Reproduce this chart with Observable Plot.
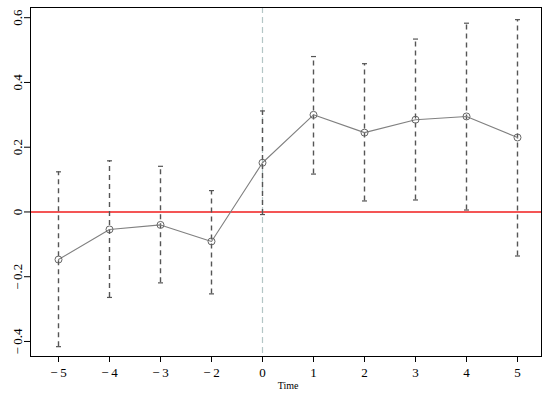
<!DOCTYPE html>
<html><head><meta charset="utf-8">
<script src="https://cdn.jsdelivr.net/npm/d3@7"></script>
<script src="https://cdn.jsdelivr.net/npm/@observablehq/plot@0.6"></script>
<style>body{margin:0;background:#fff} svg text{font-family:"Liberation Serif","Times New Roman",serif !important;}</style>
</head><body><div id="chart"></div>
<script>
const periods = ["-5","-4","-3","-2","0","1","2","3","4","5"];
const estimates = [-0.147,-0.054,-0.040,-0.091,0.152,0.300,0.245,0.285,0.295,0.230];
const upper = [0.124,0.158,0.141,0.066,0.312,0.480,0.458,0.534,0.583,0.594];
const lower = [-0.416,-0.264,-0.219,-0.253,-0.008,0.117,0.034,0.037,0.006,-0.136];
const yTicks = [-0.4,-0.2,0,0.2,0.4,0.6];
const xTitle = "Time";
const eventPeriod = "0";

const serif = "Liberation Serif";
const data = periods.map((t,i)=>({t, est: estimates[i], lo: lower[i], hi: upper[i]}));
const fmtX = s => s.startsWith("-") ? "\u2212\u2009" + s.slice(1) : s;
const fmtY = v => v < 0 ? "\u2212\u2009" + String(+(-v).toFixed(1)) : String(+v.toFixed(1));
const capSymbol = {draw(ctx, size){const w = Math.sqrt(size/Math.PI); ctx.moveTo(-w,0); ctx.lineTo(w,0);}};

const chart = Plot.plot({
  width: 550, height: 396,
  marginLeft: 30, marginRight: 9, marginTop: 7, marginBottom: 40,
  style: {fontFamily: serif, background: "#fff", color: "#000"},
  x: {type: "point", domain: periods, padding: 0, insetLeft: 26, insetRight: 23},
  y: {domain: [-0.4464, 0.6315]},
  marks: [
    Plot.ruleY([0], {stroke: "#f01c1c", strokeWidth: 1.5}),
    Plot.ruleX([eventPeriod], {stroke: "#b4c6c6", strokeDasharray: "6,4", strokeWidth: 1.2}),
    Plot.ruleX(data, {x: "t", y1: "lo", y2: "hi", stroke: "#555", strokeWidth: 1.4, strokeDasharray: "5,4"}),
    Plot.dot(data, {x: "t", y: "hi", symbol: capSymbol, r: 2.5, stroke: "#555", strokeWidth: 1.2}),
    Plot.dot(data, {x: "t", y: "lo", symbol: capSymbol, r: 2.5, stroke: "#555", strokeWidth: 1.2}),
    Plot.line(data, {x: "t", y: "est", stroke: "#808080", strokeWidth: 1.1}),
    Plot.dot(data, {x: "t", y: "est", r: 3.5, stroke: "#666", strokeWidth: 1, fill: "none"}),
    Plot.frame({stroke: "#000", strokeWidth: 1}),
    Plot.axisX({tickSize: 6, tickPadding: 5, fontSize: 13, fontFamily: serif, tickFormat: fmtX, label: null}),
    Plot.axisY({ticks: yTicks, tickSize: 6, tickFormat: () => "", label: null}),
    Plot.text(yTicks, {y: d => d, text: fmtY, frameAnchor: "left", dx: -13, rotate: -90, textAnchor: "middle", lineAnchor: "middle", fontSize: 13, fontFamily: serif}),
    Plot.text([xTitle], {text: d => d, frameAnchor: "bottom", dx: 2, dy: 29, lineAnchor: "middle", fontSize: 10, fontFamily: serif})
  ]
});
document.getElementById("chart").appendChild(chart);
</script>
</body></html>
